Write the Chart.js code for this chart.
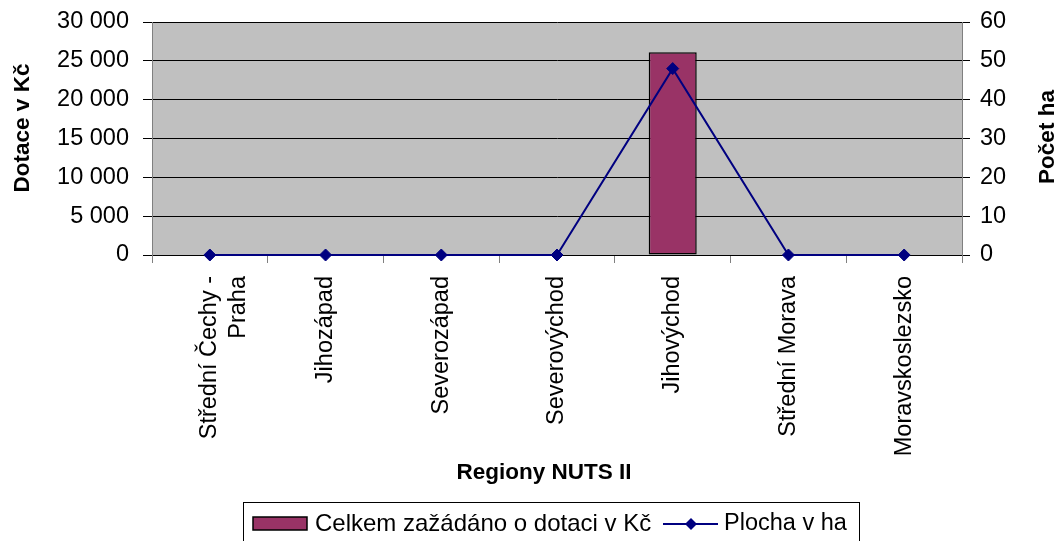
<!DOCTYPE html>
<html><head><meta charset="utf-8">
<script src="https://cdn.jsdelivr.net/npm/chart.js@4/dist/chart.umd.min.js"></script>
<style>html,body{margin:0;padding:0;background:#fff;overflow:hidden}#wrap{width:1059px;height:541px;position:relative}</style>
</head><body><div id="wrap"><canvas id="c" width="1059" height="541"></canvas></div>
<script>
const categories = [['Střední Čechy -', 'Praha'], 'Jihozápad', 'Severozápad', 'Severovýchod', 'Jihovýchod', 'Střední Morava', 'Moravskoslezsko'];
const dotaceKc = [0, 0, 0, 0, 26100, 0, 0];
const plochaHa = [0, 0, 0, 0, 48, 0, 0];
const barSeriesName = 'Celkem zažádáno o dotaci v Kč';
const lineSeriesName = 'Plocha v ha';
const xTitle = 'Regiony NUTS II';
const yTitle = 'Dotace v Kč';
const y2Title = 'Počet ha';
const yMax = 30000, yStep = 5000;
const y2Max = 60, y2Step = 10;

const FONT = "'Liberation Sans', Arial, sans-serif";
const BAR_COLOR = '#993366';
const LINE_COLOR = '#000080';

function fmt(v) { return String(v).replace(/\B(?=(\d{3})+(?!\d))/g, ' '); }

const decor = {
  id: 'decor',
  beforeDraw(chart) {
    const a = chart.chartArea, ctx = chart.ctx;
    ctx.save();
    ctx.fillStyle = '#C0C0C0';
    ctx.fillRect(a.left, a.top, a.right - a.left, a.bottom - a.top);
    ctx.restore();
  },
  afterDraw(chart) {
    const ctx = chart.ctx;
    ctx.save();
    ctx.fillStyle = '#000';
    ctx.font = 'bold 22.5px ' + FONT;
    ctx.textAlign = 'center';
    ctx.textBaseline = 'middle';
    ctx.fillText(xTitle, 544, 473);
    ctx.save(); ctx.translate(23, 128); ctx.rotate(-Math.PI / 2); ctx.fillText(yTitle, 0, 0); ctx.restore();
    ctx.save(); ctx.translate(1048, 137); ctx.rotate(-Math.PI / 2); ctx.fillText(y2Title, 0, 0); ctx.restore();
    // legend
    ctx.strokeStyle = '#000'; ctx.lineWidth = 1;
    ctx.strokeRect(243.5, 502.5, 616, 60);
    ctx.fillStyle = BAR_COLOR;
    ctx.fillRect(253, 517, 54, 13);
    ctx.lineWidth = 1.5; ctx.strokeRect(253, 517, 54, 13);
    ctx.fillStyle = '#000';
    ctx.font = '24px ' + FONT;
    ctx.textAlign = 'left';
    ctx.fillText(barSeriesName, 315, 524);
    ctx.strokeStyle = LINE_COLOR; ctx.lineWidth = 2;
    ctx.beginPath(); ctx.moveTo(663, 524); ctx.lineTo(718, 524); ctx.stroke();
    ctx.fillStyle = LINE_COLOR;
    ctx.beginPath(); ctx.moveTo(691, 518); ctx.lineTo(697, 524); ctx.lineTo(691, 530); ctx.lineTo(685, 524); ctx.closePath(); ctx.fill();
    ctx.fillStyle = '#000';
    ctx.font = '23.5px ' + FONT;
    ctx.fillText(lineSeriesName, 724, 524);
    ctx.restore();
  }
};

function noPad(s) { s.paddingTop = 0; s.paddingBottom = 0; }

new Chart(document.getElementById('c'), {
  data: {
    labels: categories,
    datasets: [
      { type: 'line', label: lineSeriesName, data: plochaHa, yAxisID: 'y2', order: 0,
        borderColor: LINE_COLOR, borderWidth: 2, tension: 0, clip: false,
        pointStyle: 'rectRot', pointRadius: 6, pointBackgroundColor: LINE_COLOR, pointBorderColor: LINE_COLOR, pointBorderWidth: 1 },
      { type: 'bar', label: barSeriesName, data: dotaceKc, yAxisID: 'y', order: 1,
        backgroundColor: BAR_COLOR, borderColor: '#000', borderWidth: 1.5, borderSkipped: false,
        barPercentage: 0.415, categoryPercentage: 1 }
    ]
  },
  options: {
    responsive: false, animation: false,
    layout: { padding: { top: 22, bottom: 41, left: 0, right: 0 } },
    plugins: { legend: { display: false }, tooltip: { enabled: false } },
    scales: {
      x: {
        offset: true,
        grid: { offset: true, drawOnChartArea: false, color: '#808080', tickLength: 8 },
        border: { color: '#000', width: 1 },
        ticks: { minRotation: 90, maxRotation: 90, autoSkip: false, color: '#000', font: { family: FONT, size: 23.5 }, padding: 13 },
        afterFit(s) { s.height = 245; s.paddingLeft = 0; s.paddingRight = 0; }
      },
      y: {
        position: 'left', min: 0, max: yMax,
        ticks: { stepSize: yStep, color: '#000', font: { family: FONT, size: 23.5 }, padding: 14, callback: v => fmt(v) },
        grid: { color: '#000', tickColor: '#000', tickLength: 9 },
        border: { color: '#808080' },
        afterFit(s) { s.width = 152; noPad(s); }
      },
      y2: {
        position: 'right', min: 0, max: y2Max,
        ticks: { stepSize: y2Step, color: '#000', font: { family: FONT, size: 23.5 }, padding: 10 },
        grid: { drawOnChartArea: false, tickColor: '#000', tickLength: 8 },
        border: { color: '#808080' },
        afterFit(s) { s.width = 97; noPad(s); }
      }
    }
  },
  plugins: [decor]
});
</script></body></html>
